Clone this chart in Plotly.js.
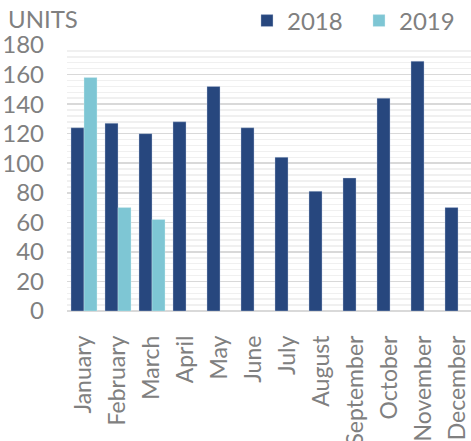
<!DOCTYPE html>
<html>
<head>
<meta charset="utf-8">
<script src="https://cdn.plot.ly/plotly-3.0.1.min.js"></script>
<style>html,body{margin:0;padding:0;background:#fff;}#chart{width:471px;height:441px;}</style>
</head>
<body>
<div id="chart"></div>
<script>
const months = ["January","February","March","April","May","June","July","August","September","October","November","December"];
const units2018 = [124,127,120,128,152,124,104,81,90,144,169,70];
const units2019 = [158,70,62,null,null,null,null,null,null,null,null,null];
const yTicks = [0,20,40,60,80,100,120,140,160,180];

const fontFam = "Lato, 'Open Sans', sans-serif";
const gray = "#808080";

const traces = [
  {type:"bar", name:"2018", x:months, y:units2018,
   marker:{color:"#27477E", line:{color:"rgba(200,210,230,0.6)", width:0.6}}},
  {type:"bar", name:"2019", x:months, y:units2019,
   marker:{color:"#7EC6D4", line:{color:"rgba(220,240,245,0.6)", width:0.6}}}
];

const layout = {
  width:471, height:441,
  margin:{l:67, r:0, t:45, b:130, autoexpand:false},
  paper_bgcolor:"#fff", plot_bgcolor:"#fff",
  barmode:"group", bargap:0.235, bargroupgap:0,
  font:{family:fontFam, color:gray, size:24},
  showlegend:true,
  legend:{orientation:"h", xref:"paper", x:0.4455, xanchor:"left",
          yref:"container", y:1-21/441, yanchor:"middle",
          entrywidth:67, entrywidthmode:"pixels",
          font:{family:fontFam, size:24, color:gray}, itemwidth:30, traceorder:"normal"},
  xaxis:{type:"category", range:[-0.5, 11.382], tickangle:-90, automargin:false,
         tickfont:{family:fontFam, size:23, color:gray},
         showgrid:false, zeroline:false, showline:false, ticks:"",
         ticklabelstandoff:19, fixedrange:true},
  yaxis:{range:[0,180], tickvals:yTicks, ticktext:yTicks.map(String), automargin:false,
         tickfont:{family:fontFam, size:24, color:gray},
         showgrid:true, gridcolor:"#d9d9d9", gridwidth:1.5,
         minor:{dtick:4, tick0:0, showgrid:true, gridcolor:"#f0f0f0", gridwidth:1.5},
         zeroline:true, zerolinecolor:"#d9d9d9", zerolinewidth:2,
         showline:false, ticks:"", ticklabelstandoff:22, fixedrange:true},
  annotations:[{text:"UNITS", xref:"paper", yref:"paper", x:-67/404, xanchor:"left",
                y:1+26.5/266, yanchor:"middle", showarrow:false, xshift:6,
                font:{family:fontFam, size:24, color:gray}}]
};

Plotly.newPlot("chart", traces, layout, {displayModeBar:false, staticPlot:true});
</script>
</body>
</html>
